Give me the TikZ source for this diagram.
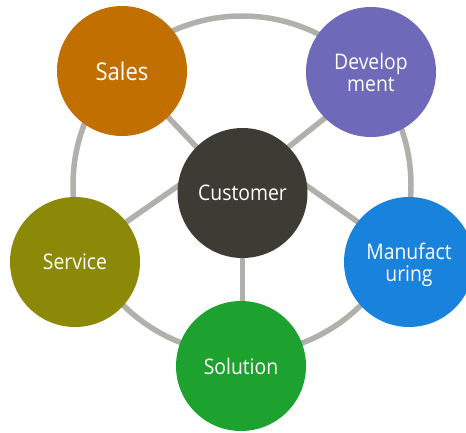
\documentclass[tikz,border=0pt]{standalone}
\usepackage{fontspec}
\setmainfont{Open Sans}[FakeStretch=0.9]
\usetikzlibrary{backgrounds}
\definecolor{ringgray}{HTML}{B1B1AB}
\definecolor{custc}{HTML}{3D3C34}
\definecolor{salesc}{HTML}{C06F00}
\definecolor{devc}{HTML}{6E69B8}
\definecolor{manuc}{HTML}{1982DC}
\definecolor{servc}{HTML}{8C8909}
\definecolor{solc}{HTML}{1EA22F}
\tikzset{
  bubble/.style={circle, minimum size=130pt, inner sep=0pt, draw=none,
    text=white, align=center, text depth=0pt,
    font=\fontsize{21.5}{22}\selectfont},
  link/.style={draw=ringgray, line width=5.5pt, shorten <=-3pt, shorten >=-3pt},
  ringline/.style={draw=ringgray, line width=5.5pt}
}
\begin{document}
\begin{tikzpicture}[x=1pt, y=-1pt]
\useasboundingbox (0,0) rectangle (466,432);
\clip (0,0) rectangle (466,432);
\node[bubble, fill=custc] (cust) at (242.5,193) {Customer};
\node[bubble, fill=salesc, font=\fontsize{24.5}{26}\selectfont] (sales) at (122,71) {Sales};
\node[bubble, fill=devc] (dev) at (371,72) {Develop\\ment};
\node[bubble, fill=manuc] (manu) at (409,262) {Manufact\\uring};
\node[bubble, fill=servc] (serv) at (75,262) {Service};
\node[bubble, fill=solc] (sol) at (241,366) {Solution};
\begin{scope}[on background layer]
  \coordinate (ringc) at (242,185);
  \draw[ringline] (ringc) circle[radius=169pt];
  \draw[link] (cust.135) -- (sales.315);
  \draw[link] (cust.45) -- (dev.225);
  \draw[link] (cust.174) -- (serv.38);
  \draw[link] (cust.6) -- (manu.142);
  \draw[link] (cust.south) -- (cust.south |- sol.north);
\end{scope}
\end{tikzpicture}
\end{document}
